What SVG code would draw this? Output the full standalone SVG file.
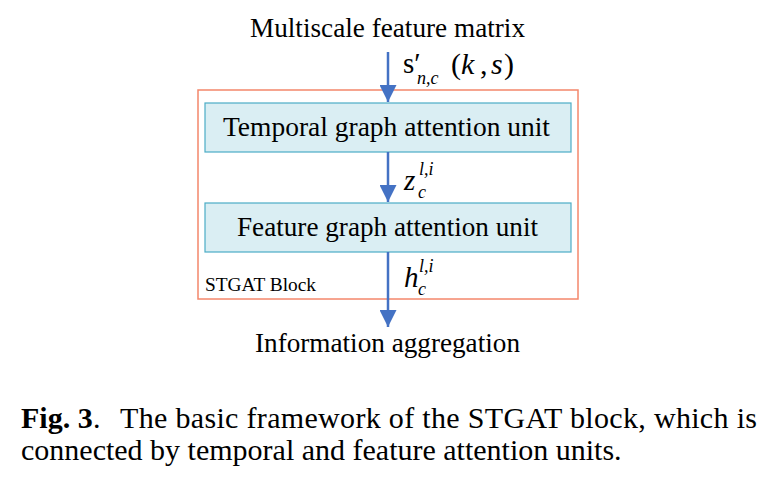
<svg xmlns="http://www.w3.org/2000/svg" width="775" height="479" viewBox="0 0 775 479">
<defs>
<style>
.unit{fill:#DAEEF3;stroke:#4BACC6;stroke-width:1.2}
.conn{stroke:#4472C4;stroke-width:2.5;fill:none}
</style>
<marker id="ah" viewBox="0 0 10 10" refX="10" refY="5" markerWidth="7.6" markerHeight="6.8" markerUnits="strokeWidth" orient="auto">
<path d="M0,0 L10,5 L0,10 z" fill="#4472C4"/>
</marker>
</defs>
<rect width="775" height="479" fill="#fff"/>
<g font-family="Liberation Serif" fill="#000">
<g id="block">
<rect x="198" y="90" width="380" height="209" fill="none" stroke="#F4876B" stroke-width="1.5"/>
<text x="205" y="291" font-size="18.5" textLength="111" lengthAdjust="spacingAndGlyphs">STGAT Block</text>
</g>
<g id="input">
<text x="250" y="37" font-size="27" textLength="275" lengthAdjust="spacingAndGlyphs">Multiscale feature matrix</text>
</g>
<g id="temporal">
<rect class="unit" x="205" y="103" width="366" height="49"/>
<text x="223" y="136" font-size="27" textLength="327" lengthAdjust="spacingAndGlyphs">Temporal graph attention unit</text>
</g>
<g id="feature">
<rect class="unit" x="205" y="203" width="366" height="49"/>
<text x="237" y="236" font-size="27" textLength="301" lengthAdjust="spacingAndGlyphs">Feature graph attention unit</text>
</g>
<g id="output">
<text x="255" y="352" font-size="27" textLength="265" lengthAdjust="spacingAndGlyphs">Information aggregation</text>
</g>
<g id="connectors">
<line class="conn" x1="388" y1="52" x2="388" y2="102" marker-end="url(#ah)"/>
<line class="conn" x1="388" y1="152" x2="388" y2="202" marker-end="url(#ah)"/>
<line class="conn" x1="388" y1="252" x2="388" y2="327" marker-end="url(#ah)"/>
</g>
<g id="labels">
<text x="403" y="73" font-size="29">s′</text>
<text x="417" y="84" font-size="18" font-style="italic">n,c</text>
<text x="451" y="74" font-size="30">(</text>
<text x="461" y="74" font-size="30" font-style="italic">k</text>
<text x="480" y="74" font-size="30">,</text>
<text x="491" y="74" font-size="30" font-style="italic">s</text>
<text x="504" y="74" font-size="30">)</text>
<text x="404" y="190" font-size="29" font-style="italic">z</text>
<text x="419" y="175" font-size="18" font-style="italic">l,i</text>
<text x="418" y="198" font-size="18" font-style="italic">c</text>
<text x="404" y="287" font-size="29" font-style="italic">h</text>
<text x="419" y="272" font-size="18" font-style="italic">l,i</text>
<text x="418" y="295" font-size="18" font-style="italic">c</text>
</g>
<g id="caption" font-size="30">
<text x="21" y="428" font-weight="bold">Fig. 3</text>
<text x="93" y="428">.</text>
<text x="120" y="428" textLength="637" lengthAdjust="spacing">The basic framework of the STGAT block, which is</text>
<text x="21" y="460">connected by temporal and feature attention units.</text>
</g>
</g>
</svg>
